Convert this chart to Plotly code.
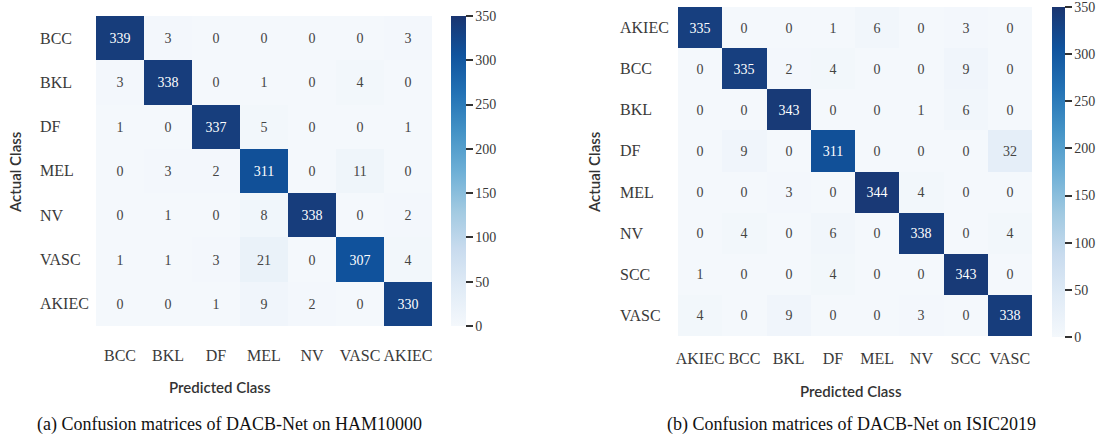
import plotly.graph_objects as go

# HAM10000 confusion matrix (rows: actual, columns: predicted)
ham_classes = ["BCC", "BKL", "DF", "MEL", "NV", "VASC", "AKIEC"]
ham_counts = [
    [339, 3, 0, 0, 0, 0, 3],
    [3, 338, 0, 1, 0, 4, 0],
    [1, 0, 337, 5, 0, 0, 1],
    [0, 3, 2, 311, 0, 11, 0],
    [0, 1, 0, 8, 338, 0, 2],
    [1, 1, 3, 21, 0, 307, 4],
    [0, 0, 1, 9, 2, 0, 330],
]

# ISIC2019 confusion matrix (rows: actual, columns: predicted)
isic_classes = ["AKIEC", "BCC", "BKL", "DF", "MEL", "NV", "SCC", "VASC"]
isic_counts = [
    [335, 0, 0, 1, 6, 0, 3, 0],
    [0, 335, 2, 4, 0, 0, 9, 0],
    [0, 0, 343, 0, 0, 1, 6, 0],
    [0, 9, 0, 311, 0, 0, 0, 32],
    [0, 0, 3, 0, 344, 4, 0, 0],
    [0, 4, 0, 6, 0, 338, 0, 4],
    [1, 0, 0, 4, 0, 0, 343, 0],
    [4, 0, 9, 0, 0, 3, 0, 338],
]

cbar_ticks = [0, 50, 100, 150, 200, 250, 300, 350]

W, H = 1111, 439
SERIF = "Liberation Serif"
SANS = "Lato"
INK = "#3a3a3a"

blues = [
    [0.0, "#f4f8fc"], [0.125, "#e0ebf6"], [0.25, "#c8dbee"], [0.375, "#a0c9e1"],
    [0.5, "#6dafd6"], [0.625, "#4493c6"], [0.75, "#2372b5"], [0.875, "#10539d"],
    [1.0, "#1a3570"],
]


def px_x(p):
    return p / W


def px_y(p):
    return 1 - p / H


fig = go.Figure()


def add_matrix(counts, classes, xa, ya, cb_x, cb_top, cb_bot, cb_thick):
    fig.add_trace(go.Heatmap(
        z=counts, x=classes, y=classes,
        xaxis=xa, yaxis=ya,
        zmin=0, zmax=350, colorscale=blues,
        texttemplate="%{z}", textfont=dict(family=SERIF, size=14),
        hoverinfo="skip",
        colorbar=dict(
            x=px_x(cb_x), xanchor="left",
            y=px_y((cb_top + cb_bot) / 2), yanchor="middle",
            len=(cb_bot - cb_top) / H, lenmode="fraction",
            thickness=cb_thick, xpad=0, ypad=0, outlinewidth=0,
            tickvals=cbar_ticks, ticks="outside", ticklen=7, tickwidth=2,
            tickcolor="#333", tickfont=dict(family=SERIF, size=14, color=INK),
            ticklabeloverflow="allow",
        ),
    ))


add_matrix(ham_counts, ham_classes, "x", "y", 451, 16, 326, 15)
add_matrix(isic_counts, isic_classes, "x2", "y2", 1052, 7, 337, 13)

axis_common = dict(showgrid=False, zeroline=False, showline=False, ticks="")
fig.update_layout(
    width=W, height=H, margin=dict(l=0, r=0, t=0, b=0, autoexpand=False),
    paper_bgcolor="white", plot_bgcolor="white",
    xaxis=dict(domain=[px_x(96), px_x(432)], anchor="y",
               tickfont=dict(family=SERIF, size=16, color=INK),
               ticklabelstandoff=18, **axis_common),
    yaxis=dict(domain=[px_y(326), px_y(16)], anchor="x", autorange="reversed",
               showticklabels=False, **axis_common),
    xaxis2=dict(domain=[px_x(678), px_x(1032)], anchor="y2",
                tickfont=dict(family=SERIF, size=16, color=INK),
                ticklabelstandoff=11, **axis_common),
    yaxis2=dict(domain=[px_y(336), px_y(7)], anchor="x2", autorange="reversed",
                showticklabels=False, **axis_common),
)

annotations = []
# left-aligned row labels
for c in ham_classes:
    annotations.append(dict(x=px_x(38), xref="paper", xanchor="left", y=c, yref="y",
                            yanchor="middle", text=c, showarrow=False,
                            font=dict(family=SERIF, size=16, color=INK)))
for c in isic_classes:
    annotations.append(dict(x=px_x(618), xref="paper", xanchor="left", y=c, yref="y2",
                            yanchor="middle", text=c, showarrow=False,
                            font=dict(family=SERIF, size=16, color=INK)))

title_font = dict(family=SANS, size=15, color="#333", weight=600)
caption_font = dict(family=SERIF, size=18, color="#111")


def label(x, y, text, font, angle=0):
    return dict(x=px_x(x), y=px_y(y), xref="paper", yref="paper",
                xanchor="center", yanchor="middle", text=text,
                textangle=angle, showarrow=False, font=font)


annotations += [
    label(15, 172, "Actual Class", title_font, -90),
    label(594, 172, "Actual Class", title_font, -90),
    label(220, 387, "Predicted Class", title_font),
    label(851, 391, "Predicted Class", title_font),
    label(229, 424, "(a) Confusion matrices of DACB-Net on HAM10000", caption_font),
    label(851, 424, "(b) Confusion matrices of DACB-Net on ISIC2019", caption_font),
]
fig.update_layout(annotations=annotations)

fig.write_html("out.html")
